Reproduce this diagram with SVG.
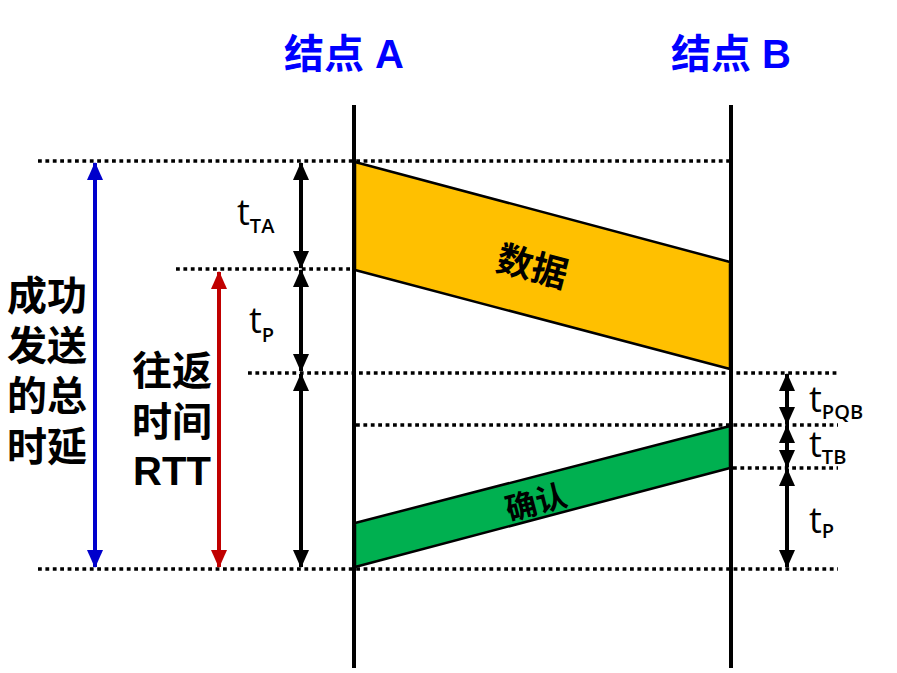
<svg xmlns="http://www.w3.org/2000/svg" width="897" height="673" viewBox="0 0 897 673">
<style>
.dot{stroke:#000;stroke-width:3.5;stroke-dasharray:3.8 3.6;fill:none}
.life{stroke:#000;stroke-width:4;fill:none}
.cj{font-family:"Liberation Sans","Noto Sans CJK SC",sans-serif;font-weight:bold;fill:#000}
.t{font-family:"Open Sans","Noto Sans",sans-serif;fill:#000}
.sub{font-size:20px;font-weight:600}
.arr{stroke-width:4;fill:none}
</style>
<defs>
<marker id="hk" viewBox="0 0 18 16" refX="17" refY="8" markerWidth="18" markerHeight="16" markerUnits="userSpaceOnUse" orient="auto-start-reverse"><path d="M0,0 L18,8 L0,16 Z" fill="#000"/></marker>
<marker id="hb" viewBox="0 0 18 16" refX="17" refY="8" markerWidth="18" markerHeight="16" markerUnits="userSpaceOnUse" orient="auto-start-reverse"><path d="M0,0 L18,8 L0,16 Z" fill="#0000CC"/></marker>
<marker id="hr" viewBox="0 0 18 16" refX="17" refY="8" markerWidth="18" markerHeight="16" markerUnits="userSpaceOnUse" orient="auto-start-reverse"><path d="M0,0 L18,8 L0,16 Z" fill="#C00000"/></marker>
</defs>
<rect width="897" height="673" fill="#fff"/>

<g id="nodeA">
<text class="cj" x="344" y="68" font-size="40" text-anchor="middle" style="fill:#0000FF">结点 A</text>
<line class="life" x1="354" y1="105" x2="354" y2="668"/>
</g>
<g id="nodeB">
<text class="cj" x="731" y="68" font-size="40" text-anchor="middle" style="fill:#0000FF">结点 B</text>
<line class="life" x1="731" y1="105" x2="731" y2="668"/>
</g>

<g id="guides">
<line class="dot" x1="38" y1="161" x2="729" y2="161"/>
<line class="dot" x1="176" y1="269" x2="352" y2="269"/>
<line class="dot" x1="248" y1="373" x2="838" y2="373"/>
<line class="dot" x1="356" y1="425" x2="838" y2="425"/>
<line class="dot" x1="733" y1="468" x2="838" y2="468"/>
<line class="dot" x1="38" y1="569" x2="838" y2="569"/>
</g>

<g id="data">
<polygon points="355,162 730,262 730,369 355,270" fill="#FFC000" stroke="#000" stroke-width="2.5" stroke-linejoin="round"/>
<text class="cj" x="0" y="0" font-size="36" text-anchor="middle" transform="translate(529,279) rotate(14.7)">数据</text>
</g>

<g id="ack">
<polygon points="355,523 730,426 730,468 355,567" fill="#00B050" stroke="#000" stroke-width="2.5" stroke-linejoin="round"/>
<text class="cj" x="0" y="0" font-size="31" text-anchor="middle" transform="translate(539,513) rotate(-14.8)">确认</text>
</g>

<g id="connectors">
<line class="arr" stroke="#0000CC" stroke-width="3.5" x1="95" y1="163" x2="95" y2="567" marker-start="url(#hb)" marker-end="url(#hb)"/>
<line class="arr" stroke="#C00000" stroke-width="3.5" x1="219" y1="272" x2="219" y2="567" marker-start="url(#hr)" marker-end="url(#hr)"/>
<line class="arr" stroke="#000" x1="301" y1="163" x2="301" y2="268" marker-start="url(#hk)" marker-end="url(#hk)"/>
<line class="arr" stroke="#000" x1="301" y1="270" x2="301" y2="371" marker-start="url(#hk)" marker-end="url(#hk)"/>
<line class="arr" stroke="#000" x1="301" y1="374" x2="301" y2="567" marker-start="url(#hk)" marker-end="url(#hk)"/>
<line class="arr" stroke="#000" x1="787" y1="374" x2="787" y2="424" marker-start="url(#hk)" marker-end="url(#hk)"/>
<line class="arr" stroke="#000" x1="787" y1="426" x2="787" y2="467" marker-start="url(#hk)" marker-end="url(#hk)"/>
<line class="arr" stroke="#000" x1="787" y1="469" x2="787" y2="567" marker-start="url(#hk)" marker-end="url(#hk)"/>
</g>

<g id="label-total">
<text class="cj" font-size="40" x="47" y="310" text-anchor="middle">成功</text>
<text class="cj" font-size="40" x="47" y="360" text-anchor="middle">发送</text>
<text class="cj" font-size="40" x="47" y="410" text-anchor="middle">的总</text>
<text class="cj" font-size="40" x="47" y="461" text-anchor="middle">时延</text>
</g>
<g id="label-rtt">
<text class="cj" font-size="40" x="172" y="385" text-anchor="middle">往返</text>
<text class="cj" font-size="40" x="172" y="436" text-anchor="middle">时间</text>
<text class="cj" font-size="40" x="172" y="485" text-anchor="middle">RTT</text>
</g>

<g id="label-times">
<text class="t" x="237" y="225" font-size="36">t<tspan class="sub" dy="8">TA</tspan></text>
<text class="t" x="249" y="333" font-size="36">t<tspan class="sub" dy="9">P</tspan></text>
<text class="t" x="809" y="412" font-size="36">t<tspan class="sub" dy="7">PQB</tspan></text>
<text class="t" x="809" y="457" font-size="36">t<tspan class="sub" dy="7">TB</tspan></text>
<text class="t" x="809" y="533" font-size="36">t<tspan class="sub" dy="5">P</tspan></text>
</g>
</svg>
